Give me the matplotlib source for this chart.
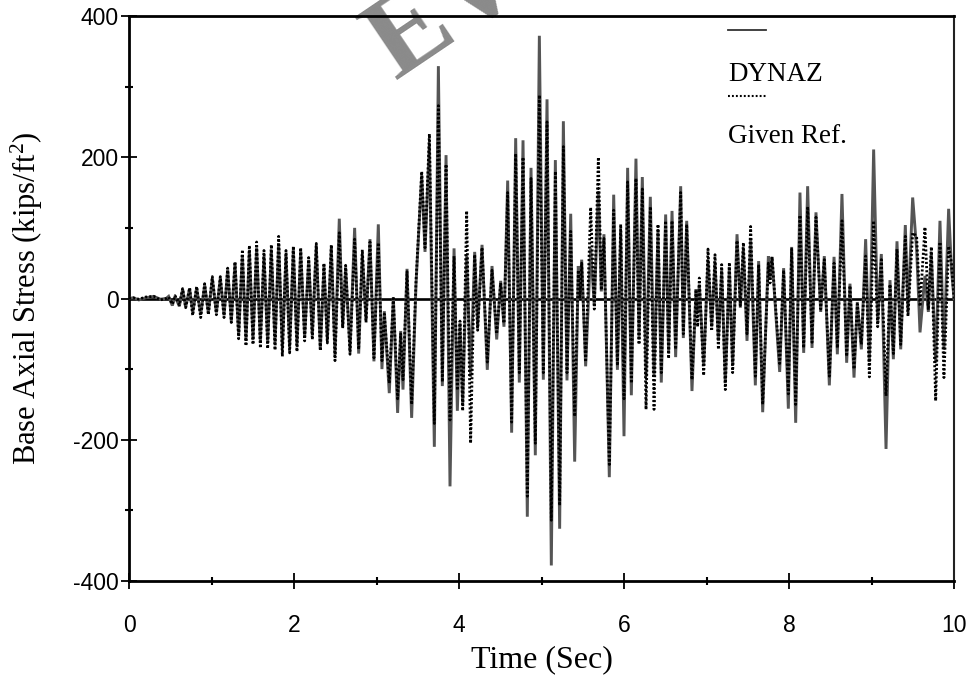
import matplotlib
matplotlib.use('Agg')
import matplotlib.pyplot as plt

# values, one entry per turning point
time_sec = [0, .05, .12, .2, .3, .38, .45, .48, .525, .558,
            .61, .65, .687, .735, .772, .82, .869, .917, .962, 1.01,
            1.059, 1.107, 1.152, 1.196, 1.24, 1.285, 1.329, 1.374, 1.418, 1.459,
            1.503, 1.547, 1.592, 1.636, 1.681, 1.725, 1.77, 1.814, 1.859, 1.903,
            1.947, 1.992, 2.036, 2.081, 2.129, 2.178, 2.222, 2.27, 2.319, 2.363,
            2.404, 2.452, 2.497, 2.549, 2.59, 2.626, 2.679, 2.735, 2.784, 2.828,
            2.873, 2.921, 2.969, 3.022, 3.066, 3.095, 3.155, 3.204, 3.256, 3.293,
            3.321, 3.37, 3.426, 3.479, 3.548, 3.588, 3.641, 3.701, 3.75, 3.798,
            3.843, 3.891, 3.94, 3.98, 4.012, 4.045, 4.093, 4.141, 4.19, 4.226,
            4.279, 4.343, 4.4, 4.457, 4.505, 4.545, 4.59, 4.638, 4.687, 4.731,
            4.776, 4.828, 4.873, 4.925, 4.974, 5.022, 5.067, 5.119, 5.168, 5.22,
            5.265, 5.309, 5.354, 5.402, 5.446, 5.467, 5.487, 5.535, 5.596, 5.64,
            5.689, 5.725, 5.757, 5.822, 5.875, 5.92, 5.96, 6.0, 6.044, 6.089,
            6.145, 6.182, 6.222, 6.267, 6.319, 6.364, 6.412, 6.452, 6.505, 6.541,
            6.582, 6.626, 6.687, 6.719, 6.76, 6.824, 6.873, 6.893, 6.913, 6.966,
            7.018, 7.063, 7.103, 7.144, 7.184, 7.228, 7.277, 7.317, 7.37, 7.41,
            7.447, 7.491, 7.535, 7.592, 7.632, 7.681, 7.75, 7.77, 7.794, 7.887,
            7.935, 7.992, 8.032, 8.081, 8.133, 8.178, 8.226, 8.279, 8.327, 8.384,
            8.428, 8.489, 8.546, 8.586, 8.642, 8.699, 8.739, 8.788, 8.828, 8.877,
            8.929, 8.974, 9.026, 9.075, 9.119, 9.176, 9.224, 9.265, 9.309, 9.354,
            9.41, 9.442, 9.499, 9.547, 9.588, 9.648, 9.689, 9.725, 9.778, 9.83,
            9.878, 9.935, 9.97, 10]

dynaz = [0, 1, -2, 1, 3, -1, 0, 3, -10, 3,
         -11, 13, -12, 14, -20, 15, -23, 19, -20, 28,
         -20, 29, -24, 41, -32, 50, -52, 62, -60, 68,
         -58, 72, -61, 60, -62, 68, -64, 78, -70, 62,
         -68, 70, -66, 68, -54, 55, -52, 74, -72, 46,
         -58, 72, -80, 113, -40, 44, -74, 100, -78, 62,
         -30, 84, -89, 105, -100, -18, -134, 2, -162, -46,
         -129, 42, -169, 20, 175, 66, 220, -210, 329, -124,
         203, -266, 71, -159, -35, -150, 61, -111, 66, -40,
         76, -101, 46, -58, 25, -40, 167, -190, 227, -119,
         224, -309, 185, -222, 372, -115, 282, -378, 196, -326,
         251, -116, 120, -231, 46, 5, 55, -96, 71, -10,
         152, 10, 91, -253, 147, -101, 96, -195, 185, -137,
         198, -58, 172, -111, 144, -111, 96, -119, 119, -76,
         124, -83, 159, -56, 110, -131, 13, -20, 20, -95,
         55, -40, 52, -60, 40, -120, 45, -95, 91, -13,
         70, -60, 85, -123, 53, -161, 60, 27, 59, -104,
         43, -156, 73, -176, 150, -77, 159, -70, 122, -19,
         60, -123, 59, -79, 148, -91, 21, -112, -5, -72,
         84, -90, 211, -34, 63, -213, 26, -86, 81, -72,
         104, -19, 143, 70, -48, 32, -19, 65, -91, 110,
         -72, 127, 40, 0]

given_ref = [0, 1, -1, 2, 3, -2, 0, 2, -8, 4,
             -9, 14, -13, 15, -24, 17, -27, 21, -23, 31,
             -23, 31, -27, 43, -34, 52, -57, 69, -67, 75,
             -65, 80, -70, 68, -71, 76, -73, 88, -82, 68,
             -77, 74, -75, 72, -60, 58, -58, 78, -74, 50,
             -63, 76, -88, 93, -42, 47, -79, 84, -72, 69,
             -34, 80, -84, 79, -88, -22, -120, 0, -142, -50,
             -115, 38, -150, 25, 180, 72, 233, -177, 273, -118,
             190, -172, 60, -130, -32, -159, 124, -205, 62, -45,
             72, -90, 40, -50, 22, -35, 150, -175, 205, -105,
             200, -280, 170, -205, 288, -105, 250, -314, 180, -293,
             215, -105, 95, -167, 40, 0, 50, -90, 129, -15,
             200, 12, 85, -235, 125, -95, 105, -142, 165, -120,
             170, -65, 155, -157, 130, -157, 105, -105, 110, -85,
             110, -72, 150, -50, 105, -115, 10, -40, 29, -109,
             70, -46, 62, -72, 48, -129, 51, -105, 82, -10,
             79, -50, 102, -110, 48, -150, 50, 22, 59, -92,
             40, -135, 70, -150, 118, -70, 130, -62, 115, -15,
             55, -110, 50, -70, 110, -82, 18, -100, -8, -65,
             60, -111, 110, -40, 55, -138, 20, -78, 70, -65,
             88, -25, 93, 88, -11, 101, -16, 73, -145, 80,
             -112, 74, 50, 0]

x_ticks = [0, 2, 4, 6, 8, 10]
y_ticks = [-400, -200, 0, 200, 400]
x_minor = [1, 3, 5, 7, 9]
y_minor = [-300, -100, 100, 300]

plt.rcParams['mathtext.fontset'] = 'custom'
plt.rcParams['mathtext.rm'] = 'Liberation Serif'
plt.rcParams['mathtext.default'] = 'regular'
plt.rcParams['axes.unicode_minus'] = False

fig = plt.figure(figsize=(9.72, 6.77), dpi=100)
ax = fig.add_axes([129 / 972, 1 - 581 / 677, 825 / 972, 565 / 677])

# watermark, cut off by the top of the page
ax.text(0.322, 0.886, 'EVA', rotation=34, rotation_mode='anchor', transform=ax.transAxes,
        family='Liberation Serif', weight='bold', fontsize=84, color='#8a8a8a',
        ha='left', va='baseline', zorder=1, clip_on=False)

ax.axhline(0, color='black', lw=1.9, zorder=2)
ax.plot(time_sec, dynaz, color='#555555', lw=2.1, zorder=3, solid_joinstyle='miter')
ax.plot(time_sec, given_ref, color='black', lw=2.0, linestyle=(0, (0.75, 0.75)), zorder=4)

ax.set_xlim(0, 10)
ax.set_ylim(-400, 400)
ax.set_xticks(x_ticks)
ax.set_yticks(y_ticks)
ax.set_xticks(x_minor, minor=True)
ax.set_yticks(y_minor, minor=True)
ax.tick_params(which='major', direction='inout', length=11, width=1.3, labelsize=16.5, pad=18)
ax.tick_params(axis='y', which='major', pad=2)
ax.tick_params(which='minor', direction='inout', length=5.5, width=1.5)
for label in ax.get_xticklabels() + ax.get_yticklabels():
    label.set_family('Liberation Sans')

for side in ['left', 'bottom', 'top']:
    ax.spines[side].set_linewidth(2)
ax.spines['right'].set_linewidth(1.5)
ax.spines['right'].set_color('#222222')

ax.set_xlabel('Time (Sec)', family='Liberation Serif', fontsize=23, labelpad=6)
ax.set_ylabel('Base Axial Stress (kips/ft$^{2}$)', family='Liberation Serif', fontsize=22, labelpad=20)

# legend sits above each label in the original, so it is laid out by hand
ax.plot([0.726, 0.772], [0.976, 0.976], color='#333333', lw=1.3, transform=ax.transAxes, zorder=5)
ax.plot([0.726, 0.772], [0.859, 0.859], color='black', lw=1.5, linestyle=(0, (0.9, 1.0)),
        transform=ax.transAxes, zorder=5)
ax.text(0.726, 0.896, 'DYNAZ', transform=ax.transAxes, family='Liberation Serif', fontsize=19.5,
        ha='left', va='center')
ax.text(0.726, 0.786, 'Given Ref.', transform=ax.transAxes, family='Liberation Serif', fontsize=19.5,
        ha='left', va='center')

plt.savefig('out.png', dpi=100)
